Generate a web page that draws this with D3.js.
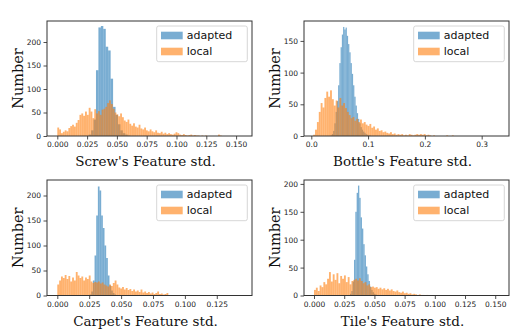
<!DOCTYPE html>
<html><head><meta charset="utf-8">
<script src="https://cdn.jsdelivr.net/npm/d3@7"></script>
<style>
html,body{margin:0;padding:0;background:#fff;}
svg{display:block;}
</style></head>
<body>
<svg id="chart" width="516" height="332"></svg>
<script>
// ---------------- DATA ----------------
const seriesNames = ["adapted", "local"];
const panelLabels = ["Screw's Feature std.", "Bottle's Feature std.", "Carpet's Feature std.", "Tile's Feature std."];

// Screw
const screwAdaptedStart = 0.0263, screwAdaptedWidth = 0.00205;
const screwAdapted = [3, 12, 35, 140, 231, 234, 228, 190, 182, 122, 62, 45, 25, 12, 6, 3, 1];
const screwLocalStart = 0.0, screwLocalWidth = 0.00155;
const screwLocal = [18, 14, 6, 9, 12, 10, 17, 21, 24, 20, 28, 34, 45, 48, 43, 52, 45, 60, 52, 38,
  57, 48, 53, 45, 56, 58, 62, 70, 76, 68, 58, 50, 46, 42, 48, 40, 33, 30, 35, 26,
  22, 27, 20, 18, 24, 16, 14, 18, 12, 10, 14, 10, 8, 12, 7, 6, 9, 5, 7, 4,
  6, 4, 3, 5, 8, 6, 3, 2, 4, 2, 1, 2, 3, 1, 2, 1, 1, 0, 1, 0,
  1, 0, 0, 0, 0, 0, 0, 3, 1];

// Bottle
const bottleAdaptedStart = 0.034, bottleAdaptedWidth = 0.0022;
const bottleAdapted = [1, 3, 8, 20, 38, 55, 80, 115, 140, 160, 172, 168, 171, 158, 145, 132, 115, 98, 80, 62,
  48, 36, 27, 20, 14, 10, 7, 5, 3, 2, 1, 1];
const bottleLocalStart = 0.0, bottleLocalWidth = 0.0033;
const bottleLocal = [0, 2, 10, 22, 38, 52, 45, 60, 70, 62, 72, 58, 48, 56, 45, 60, 48, 52, 44, 38,
  33, 28, 30, 24, 27, 22, 26, 20, 22, 18, 16, 19, 13, 15, 10, 12, 8, 9, 6, 7,
  5, 4, 6, 3, 4, 2, 3, 2, 3, 1, 2, 1, 3, 2, 1, 2, 3, 2, 3, 2,
  3, 1, 2, 1, 0, 1, 0, 0, 0, 0, 0, 0, 1, 0, 0, 1];

// Carpet
const carpetAdaptedStart = 0.0253, carpetAdaptedWidth = 0.0013;
const carpetAdapted = [2, 8, 30, 80, 160, 218, 210, 160, 135, 100, 75, 40, 20, 10, 5, 2, 1];
const carpetLocalStart = 0.0, carpetLocalWidth = 0.00145;
const carpetLocal = [22, 30, 38, 35, 41, 33, 39, 28, 36, 30, 47, 40, 35, 38, 30, 36, 33, 40, 28, 25,
  27, 26, 28, 24, 26, 22, 20, 18, 22, 19, 25, 30, 22, 16, 14, 17, 12, 15, 11, 13,
  9, 12, 8, 10, 7, 12, 6, 8, 5, 7, 4, 6, 3, 5, 8, 3, 4, 2, 3, 5, 1];

// Tile
const tileAdaptedStart = 0.0298, tileAdaptedWidth = 0.0011;
const tileAdapted = [3, 8, 25, 64, 150, 184, 197, 175, 140, 120, 92, 72, 52, 38, 26, 16, 10, 6, 3, 2, 1];
const tileLocalStart = 0.0, tileLocalWidth = 0.00155;
const tileLocal = [10, 14, 8, 18, 15, 24, 20, 30, 42, 25, 38, 28, 40, 22, 35, 30, 36, 24, 33, 20,
  26, 28, 30, 27, 31, 26, 22, 24, 18, 20, 15, 16, 14, 15, 12, 14, 11, 13, 10, 12,
  9, 11, 8, 7, 9, 6, 5, 7, 4, 5, 3, 4, 2, 3, 2, 1, 2, 1, 1, 0, 1];

// Axis ticks
const screwXTicks = [0, 0.025, 0.05, 0.075, 0.1, 0.125, 0.15];
const bottleXTicks = [0, 0.1, 0.2, 0.3];
const carpetXTicks = [0, 0.025, 0.05, 0.075, 0.1, 0.125];
const tileXTicks = [0, 0.025, 0.05, 0.075, 0.1, 0.125, 0.15];
const screwYTicks = [0, 50, 100, 150, 200];
const bottleYTicks = [0, 50, 100, 150];
const carpetYTicks = [0, 50, 100, 150, 200];
const tileYTicks = [0, 50, 100, 150, 200];

// ---------------- LAYOUT ----------------
const colors = {adapted: "#1f77b4", local: "#ff7f0e"};
const panels = [
  {label: panelLabels[0], box: {l: 47, r: 252, t: 21, b: 136}, xd: [-0.00864, 0.16334], yd: [0, 244.7],
   xt: screwXTicks, yt: screwYTicks, fmt: ".3f",
   series: [{name: "adapted", start: screwAdaptedStart, w: screwAdaptedWidth, v: screwAdapted},
            {name: "local", start: screwLocalStart, w: screwLocalWidth, v: screwLocal}]},
  {label: panelLabels[1], box: {l: 304, r: 509, t: 21, b: 136}, xd: [-0.01285, 0.3481], yd: [0, 181.4],
   xt: bottleXTicks, yt: bottleYTicks, fmt: ".1f",
   series: [{name: "adapted", start: bottleAdaptedStart, w: bottleAdaptedWidth, v: bottleAdapted},
            {name: "local", start: bottleLocalStart, w: bottleLocalWidth, v: bottleLocal}]},
  {label: panelLabels[2], box: {l: 47, r: 252, t: 180, b: 295.5}, xd: [-0.00807, 0.15259], yd: [0, 231],
   xt: carpetXTicks, yt: carpetYTicks, fmt: ".3f",
   series: [{name: "adapted", start: carpetAdaptedStart, w: carpetAdaptedWidth, v: carpetAdapted},
            {name: "local", start: carpetLocalStart, w: carpetLocalWidth, v: carpetLocal}]},
  {label: panelLabels[3], box: {l: 304, r: 509, t: 180, b: 295.5}, xd: [-0.00828, 0.1614], yd: [0, 207],
   xt: tileXTicks, yt: tileYTicks, fmt: ".3f",
   series: [{name: "adapted", start: tileAdaptedStart, w: tileAdaptedWidth, v: tileAdapted},
            {name: "local", start: tileLocalStart, w: tileLocalWidth, v: tileLocal}]}
];

const svg = d3.select("#chart");
svg.append("rect").attr("width", 516).attr("height", 332).attr("fill", "#fff");

panels.forEach(p => {
  const b = p.box;
  const x = d3.scaleLinear().domain(p.xd).range([b.l, b.r]);
  const y = d3.scaleLinear().domain(p.yd).range([b.b, b.t]);
  const g = svg.append("g");

  const clipId = "clip" + b.l + "_" + Math.round(b.t);
  svg.append("clipPath").attr("id", clipId).append("rect")
    .attr("x", b.l).attr("y", b.t).attr("width", b.r - b.l).attr("height", b.b - b.t);
  const plot = g.append("g").attr("clip-path", `url(#${clipId})`);

  p.series.forEach(s => {
    const bins = s.v.map((c, i) => ({x0: s.start + i * s.w, x1: s.start + (i + 1) * s.w, c}));
    plot.append("g").selectAll("rect").data(bins.filter(d => d.c > 0)).join("rect")
      .attr("x", d => x(d.x0))
      .attr("width", d => x(d.x1) - x(d.x0))
      .attr("y", d => y(d.c))
      .attr("height", d => y(0) - y(d.c))
      .attr("fill", colors[s.name])
      .attr("fill-opacity", 0.6);
  });

  // axes
  const xa = g.append("g").attr("transform", `translate(0,${b.b})`)
    .call(d3.axisBottom(x).tickValues(p.xt).tickFormat(d3.format(p.fmt)).tickSize(3.5).tickPadding(2.5));
  const ya = g.append("g").attr("transform", `translate(${b.l},0)`)
    .call(d3.axisLeft(y).tickValues(p.yt).tickFormat(d3.format("d")).tickSize(3.5).tickPadding(2.5));
  [xa, ya].forEach(a => {
    a.select(".domain").remove();
    a.selectAll(".tick line").attr("stroke", "#222").attr("stroke-width", 0.8);
    a.selectAll(".tick text").attr("fill", "#222")
      .style("font-family", "'DejaVu Sans', sans-serif").style("font-size", "7.5px");
  });

  // frame
  g.append("rect").attr("x", b.l).attr("y", b.t).attr("width", b.r - b.l).attr("height", b.b - b.t)
    .attr("fill", "none").attr("stroke", "#333").attr("stroke-width", 1);

  // axis labels
  g.append("text").attr("x", (b.l + b.r) / 2 - 4).attr("y", b.b + 30)
    .attr("text-anchor", "middle")
    .style("font-family", "'DejaVu Serif', serif").style("font-size", "13.5px").attr("fill", "#111")
    .text(p.label);
  g.append("text")
    .attr("transform", `translate(${b.l - 29},${(b.t + b.b) / 2}) rotate(-90)`)
    .attr("text-anchor", "middle").attr("dy", "0.35em")
    .style("font-family", "'DejaVu Serif', serif").style("font-size", "14.5px").attr("fill", "#111")
    .text("Number");

  // legend
  const lw = 90.6, lh = 35.7;
  const lx = b.r - 4.7 - lw, ly = b.t + 5;
  const lg = g.append("g").attr("transform", `translate(${lx},${ly})`);
  lg.append("rect").attr("width", lw).attr("height", lh).attr("rx", 2)
    .attr("fill", "#fff").attr("fill-opacity", 0.8).attr("stroke", "#ccc").attr("stroke-width", 0.8);
  seriesNames.forEach((n, i) => {
    lg.append("rect").attr("x", 4.3).attr("y", 5.7 + i * 16).attr("width", 21.7).attr("height", 7.6)
      .attr("fill", colors[n]).attr("fill-opacity", 0.6);
    lg.append("text").attr("x", 30).attr("y", 9.5 + i * 16).attr("dy", "0.35em")
      .style("font-family", "'DejaVu Sans', sans-serif").style("font-size", "11px").attr("fill", "#111")
      .text(n);
  });
});
</script>
</body></html>
